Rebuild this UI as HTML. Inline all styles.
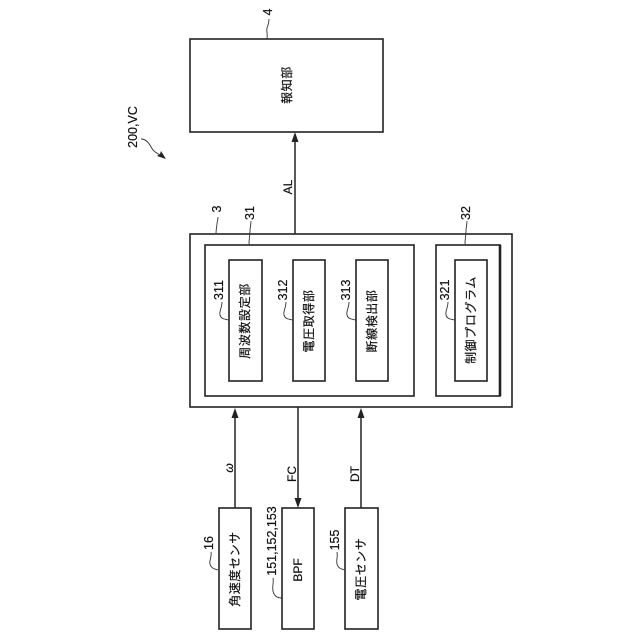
<!DOCTYPE html>
<html>
<head>
<meta charset="utf-8">
<style>
html,body{margin:0;padding:0;background:#fff;width:640px;height:640px;overflow:hidden}
svg{display:block}
text{fill:#111;stroke:#111;stroke-width:.2;text-anchor:middle;dominant-baseline:central;font-family:"Liberation Sans","Noto Sans CJK JP",sans-serif}
.j{font-size:12px;letter-spacing:.6px}
.n{font-size:12.5px}
.s{font-size:12px}
rect{fill:#fff;stroke:#222;stroke-width:1.6}
.c{fill:none;stroke:#333;stroke-width:.9}
.l{stroke:#222;stroke-width:1.5;fill:none}
.a{fill:#222;stroke:none}
</style>
</head>
<body>
<svg width="640" height="640" viewBox="0 0 640 640" xmlns="http://www.w3.org/2000/svg">
<rect x="190" y="39" width="193" height="93"/>
<rect x="190" y="234" width="322" height="173"/>
<rect x="205" y="245" width="209" height="151"/>
<rect x="229" y="260" width="33" height="121"/>
<rect x="293" y="260" width="32" height="121"/>
<rect x="356" y="260" width="32" height="121"/>
<rect x="436" y="245" width="64" height="151"/>
<path class="l" style="stroke-width:2.6" d="M500 245V396"/>
<rect x="455" y="260" width="32" height="121"/>
<rect x="219" y="508" width="32" height="121"/>
<rect x="282" y="508" width="32" height="121"/>
<rect x="345" y="508" width="33" height="121"/>

<path class="l" d="M295 234V138"/><path class="a" d="M295 132l-3.5 10h7z"/>
<path class="l" d="M235 508V414"/><path class="a" d="M235 408l-3.5 10h7z"/>
<path class="l" d="M298 407V502"/><path class="a" d="M298 508l-3.5-10h7z"/>
<path class="l" d="M361 508V414"/><path class="a" d="M361 408l-3.5 10h7z"/>

<path class="c" d="M267 39c1-6-1-8 0-11s2-5 2-9"/>
<path class="c" d="M216 234c0-6 1-8 1-10s1-4 1-7"/>
<path class="c" d="M249 245c0-8 1-10 1-14s1-6 1-10"/>
<path class="c" d="M465 245c0-8 1-10 1-14s1-6 1-10"/>
<path class="c" d="M229 320c-5-1-8-1-9-5s2-7 2-13"/>
<path class="c" d="M293 320c-5-1-8-1-9-5s2-7 2-13"/>
<path class="c" d="M356 320c-5-1-8-1-9-5s2-7 2-13"/>
<path class="c" d="M455 320c-5-1-8-1-9-5s2-7 2-13"/>
<path class="c" d="M218 570c-4-1-7-2-8-6s2-7 1-12"/>
<path class="c" d="M282 598c-5 0-8-2-9-7s1-8 0-13"/>
<path class="c" d="M345 570c-4-1-7-2-8-6s1-7 0-12"/>
<path class="c" d="M141 139c5 0 8 4 10 8s5 6 13 10"/>
<path class="a" d="M166 159l-9-3 3-2 1-3z"/>

<text class="n" transform="translate(133 127) rotate(-90)">200,VC</text>
<text class="n" transform="translate(268 12) rotate(-90)">4</text>
<text class="n" transform="translate(217 209) rotate(-90)">3</text>
<text class="n" transform="translate(250 213) rotate(-90)">31</text>
<text class="n" transform="translate(466 213) rotate(-90)">32</text>
<text class="n" transform="translate(219 290) rotate(-90)">311</text>
<text class="n" transform="translate(283 290) rotate(-90)">312</text>
<text class="n" transform="translate(346 290) rotate(-90)">313</text>
<text class="n" transform="translate(445 290) rotate(-90)">321</text>
<text class="n" transform="translate(209 543) rotate(-90)">16</text>
<text class="n" transform="translate(272 541) rotate(-90)">151,152,153</text>
<text class="n" transform="translate(335 540) rotate(-90)">155</text>

<text class="s" transform="translate(288 187) rotate(-90)">AL</text>
<text class="s" transform="translate(229 468) rotate(-90)" font-style="italic">ω</text>
<text class="s" transform="translate(292 474) rotate(-90)">FC</text>
<text class="s" transform="translate(355 474) rotate(-90)">DT</text>
<text class="s" transform="translate(298 570) rotate(-90)">BPF</text>

<text class="j" transform="translate(287 85) rotate(-90)">報知部</text>
<text class="j" transform="translate(245 321) rotate(-90)">周波数設定部</text>
<text class="j" transform="translate(309 321) rotate(-90)">電圧取得部</text>
<text class="j" transform="translate(372 321) rotate(-90)">断線検出部</text>
<text class="j" transform="translate(471 320) rotate(-90)">制御プログラム</text>
<text class="j" transform="translate(235 569) rotate(-90)">角速度センサ</text>
<text class="j" transform="translate(361 569) rotate(-90)">電圧センサ</text>
</svg>
</body>
</html>
